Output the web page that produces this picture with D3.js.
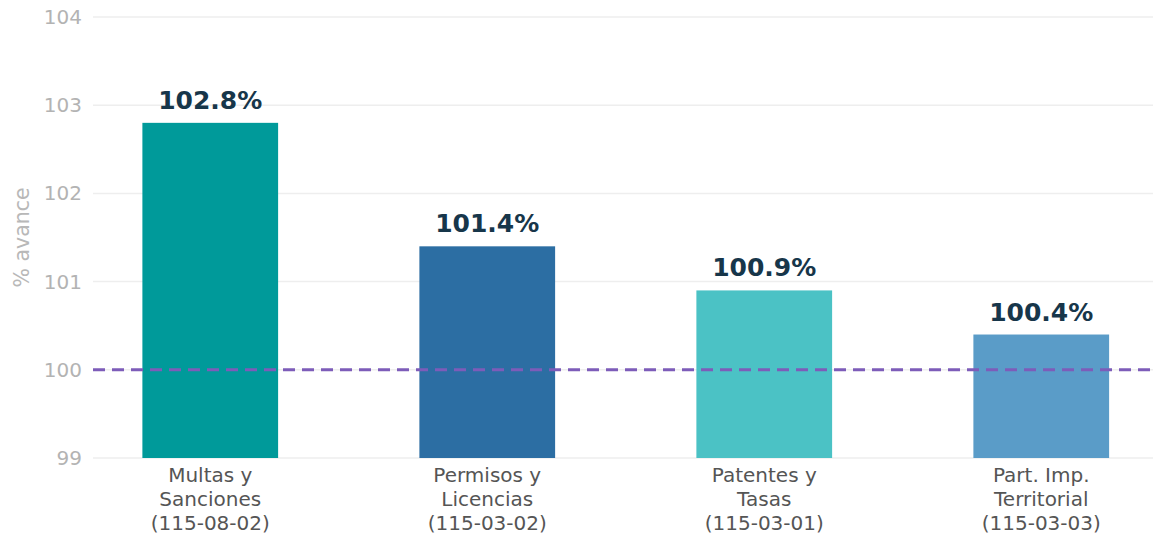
<!DOCTYPE html>
<html><head><meta charset="utf-8">
<script src="https://cdn.jsdelivr.net/npm/d3@7"></script>
<style>body{margin:0;background:#fff}svg{display:block}</style>
</head><body>
<svg id="c" width="1153" height="540"></svg>
<script>
const categories = [["Multas y","Sanciones","(115-08-02)"],["Permisos y","Licencias","(115-03-02)"],["Patentes y","Tasas","(115-03-01)"],["Part. Imp.","Territorial","(115-03-03)"]];
const values = [102.8, 101.4, 100.9, 100.4];
const colors = ["#009a9a", "#2c6ea3", "#4bc2c5", "#5a9cc8"];
const yTicks = [99, 100, 101, 102, 103, 104];
const target = 100;
const yLabel = "% avance";

const svg = d3.select("#c");
const font = "DejaVu Sans, sans-serif";
const y = d3.scaleLinear().domain([99, 104]).range([458, 17]);
const x = d3.scaleBand().domain(d3.range(values.length)).range([71.75, 1179.75]).paddingInner(0.51).paddingOuter(0.255);

// grid
svg.append("g").selectAll("line").data(yTicks).join("line")
  .attr("x1", 93).attr("x2", 1153).attr("y1", d => y(d)).attr("y2", d => y(d))
  .attr("stroke", "#eeeeee").attr("stroke-width", 1.5);
svg.append("g").selectAll("text").data(yTicks).join("text")
  .attr("x", 82).attr("y", d => y(d)).attr("dy", "0.35em").attr("text-anchor", "end")
  .attr("font-family", font).attr("font-size", 20).attr("fill", "#b3b3b3").text(d => d);

svg.append("text").attr("transform", "translate(29," + y(101.5) + ") rotate(-90)")
  .attr("text-anchor", "middle").attr("font-family", font).attr("font-size", 20.5)
  .attr("fill", "#b8b8b8").text(yLabel);

// bars
svg.append("g").selectAll("rect").data(values).join("rect")
  .attr("x", (d, i) => x(i)).attr("width", x.bandwidth())
  .attr("y", d => y(d)).attr("height", d => y(99) - y(d))
  .attr("fill", (d, i) => colors[i]);

// target line
svg.append("line").attr("x1", 93).attr("x2", 1153).attr("y1", y(target)).attr("y2", y(target))
  .attr("stroke", "#7d5cb9").attr("stroke-width", 3).attr("stroke-dasharray", "12,7");

// value labels
svg.append("g").selectAll("text").data(values).join("text")
  .attr("x", (d, i) => x(i) + x.bandwidth() / 2).attr("y", d => y(d) - 14)
  .attr("text-anchor", "middle").attr("font-family", font).attr("font-size", 25).attr("font-weight", "bold")
  .attr("fill", "#17364a").text(d => d.toFixed(1) + "%");

// category labels
const cg = svg.append("g").selectAll("text").data(categories).join("text")
  .attr("x", (d, i) => x(i) + x.bandwidth() / 2).attr("y", 482)
  .attr("text-anchor", "middle").attr("font-family", font).attr("font-size", 20).attr("fill", "#555555");
cg.selectAll("tspan").data(d => d).join("tspan")
  .attr("x", function() { return this.parentNode.getAttribute("x"); })
  .attr("dy", (d, j) => j === 0 ? 0 : 24).text(d => d);
</script>
</body></html>
